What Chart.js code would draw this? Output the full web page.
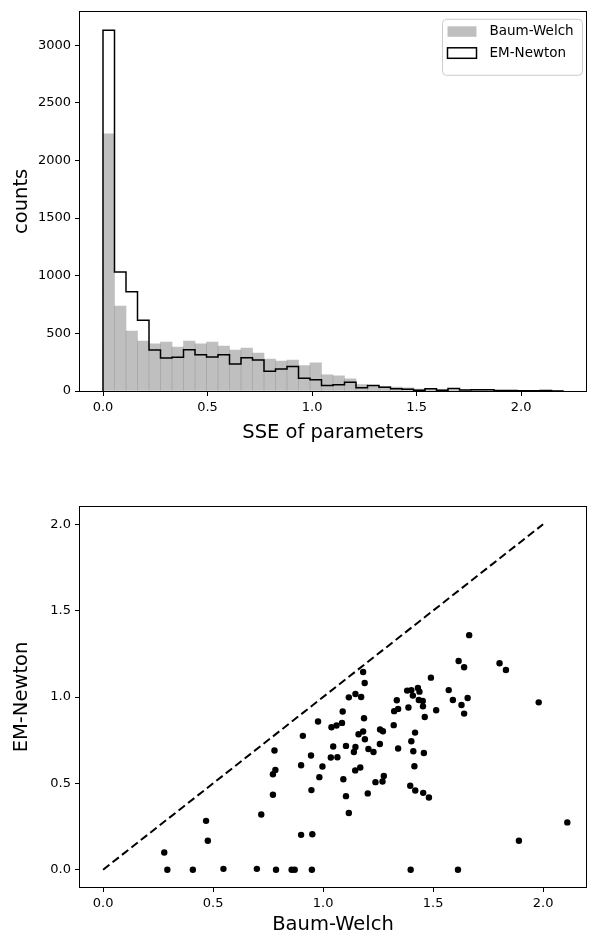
<!DOCTYPE html>
<html>
<head>
    <title>SSE of parameters: Baum-Welch vs EM-Newton</title>
    <meta charset="utf-8" />
    <script src="https://cdn.jsdelivr.net/npm/chart.js"></script>
    <style>
        body { margin: 0; background: #fff; width: 590px; height: 937px; overflow: hidden; }
        #histBox { position: absolute; left: 0; top: 0; width: 590px; height: 460px; }
        #scatterBox { position: absolute; left: 0; top: 460px; width: 590px; height: 477px; }
    </style>
</head>
<body>
    <div id="histBox"><canvas id="histChart" width="590" height="460"></canvas></div>
    <div id="scatterBox"><canvas id="scatterChart" width="590" height="477"></canvas></div>
    <script>
        // histogram: 40 equal bins from 0 to 2.2
        var binStart = 0, binEnd = 2.2, binCount = 40;
        var baumWelchCounts = [2231, 737, 520, 433, 410, 425, 381, 433, 410, 425,
                               390, 355, 373, 329, 277, 260, 269, 220, 245, 140,
                               131, 105, 55, 48, 40, 34, 28, 17, 18, 14,
                               12, 10, 8, 7, 5, 4, 3, 3, 6, 3];
        var emNewtonCounts = [3130, 1032, 861, 613, 355, 286, 292, 358, 315, 295,
                              315, 234, 289, 269, 171, 191, 213, 110, 97, 48,
                              54, 76, 28, 48, 33, 19, 16, 7, 19, 7,
                              22, 8, 10, 10, 4, 4, 2, 2, 4, 1];
        var histXTicks = [0, 0.5, 1, 1.5, 2];
        var histYTicks = [0, 500, 1000, 1500, 2000, 2500, 3000];

        // scatter: SSE of each run, Baum-Welch (x) vs EM-Newton (y)
        var baumWelchSSE = [0.278, 0.468, 0.476, 0.719, 0.779, 0.783, 0.772, 0.772,
                            0.292, 0.408, 0.547, 0.699, 0.786, 0.857, 0.871, 0.949, 1.398, 1.613,
                            1.182, 1.189, 1.147, 1.117, 1.173, 1.089, 0.977, 1.038, 1.061, 1.086,
                            1.186, 0.908, 1.161, 1.182, 1.190, 1.259, 1.272, 1.323, 1.335, 1.341,
                            1.321, 1.388, 1.382, 1.401, 1.431, 1.438, 1.408, 1.435, 1.453, 1.454,
                            1.462, 1.418, 1.401, 1.410, 1.458, 1.415, 1.396, 1.419, 1.455, 1.481,
                            1.046, 1.104, 1.147, 1.140, 1.035, 1.065, 0.945, 0.900, 0.997, 0.983,
                            1.206, 1.229, 1.258, 1.341, 1.169, 1.146, 1.092, 0.947, 1.104, 1.117,
                            1.203, 1.238, 1.270, 1.276, 0.900, 0.951,
                            1.664, 1.616, 1.641, 1.802, 1.831, 1.490, 1.571, 1.590, 1.657, 1.629,
                            1.514, 1.641, 1.980, 2.110, 1.890];
        var emNewtonSSE = [0.100, 0.283, 0.168, 0.320, 0.690, 0.578, 0.553, 0.434,
                           0.000, 0.000, 0.005, 0.005, 0.000, 0.000, 0.000, 0.000, 0.000, 0.000,
                           1.145, 1.081, 1.017, 0.998, 1.000, 0.916, 0.858, 0.825, 0.835, 0.850,
                           0.877, 0.775, 0.784, 0.800, 0.755, 0.812, 0.802, 0.918, 0.981, 0.931,
                           0.837, 0.939, 1.037, 1.039, 1.052, 1.031, 1.008, 0.983, 0.977, 0.946,
                           0.884, 0.794, 0.744, 0.686, 0.676, 0.599, 0.486, 0.459, 0.445, 0.418,
                           0.713, 0.717, 0.711, 0.682, 0.650, 0.651, 0.661, 0.605, 0.598, 0.536,
                           0.699, 0.682, 0.728, 0.702, 0.592, 0.575, 0.524, 0.461, 0.426, 0.328,
                           0.442, 0.507, 0.511, 0.543, 0.202, 0.205,
                           1.358, 1.208, 1.172, 1.195, 1.156, 1.112, 1.040, 0.983, 0.994, 0.954,
                           0.923, 0.904, 0.969, 0.274, 0.168];
        var diagX = [0, 2];
        var diagY = [0, 2];
        var scatterTicks = [0, 0.5, 1, 1.5, 2];

        var FONT = 'DejaVu Sans';

        function axis(min, max, tickValues, title, fmt, size, titlePad, isX) {
            return {
                type: 'linear', min: min, max: max, offset: false,
                grid: { offset: false, drawOnChartArea: false, drawTicks: true, tickLength: 5, tickColor: '#000', tickWidth: 1 },
                border: { display: false },
                ticks: { color: '#000', font: { family: FONT, size: 13 }, padding: 4, maxRotation: 0, autoSkip: false, callback: fmt },
                title: { display: true, text: title, color: '#000', font: { family: FONT, size: 19.5 }, padding: titlePad },
                afterBuildTicks: function (s) { s.ticks = tickValues.map(function (v) { return { value: v }; }); },
                afterFit: function (s) { if (isX) { s.height = size; } else { s.width = size; } }
            };
        }
        var oneDecimal = function (v) { return Number(v).toFixed(1); };
        var plain = function (v) { return String(v); };

        // matplotlib-like box around the plot area
        var framePlugin = {
            id: 'frame',
            afterDatasetsDraw: function (chart) {
                var a = chart.chartArea, ctx = chart.ctx;
                ctx.save();
                ctx.strokeStyle = '#000';
                ctx.lineWidth = 1;
                ctx.strokeRect(Math.round(a.left) - 0.5, Math.round(a.top) - 0.5,
                               Math.round(a.right - a.left) + 1, Math.round(a.bottom - a.top) + 1);
                ctx.restore();
            }
        };

        // legend in the upper right corner of the histogram
        var histLegend = {
            id: 'histLegend',
            afterDraw: function (chart) {
                var ctx = chart.ctx, a = chart.chartArea;
                var x0 = a.right - 143.5, y0 = a.top + 7.5, w = 140, h = 56;
                ctx.save();
                ctx.fillStyle = 'rgba(255,255,255,0.8)';
                ctx.strokeStyle = '#cccccc';
                ctx.lineWidth = 1;
                ctx.beginPath();
                ctx.roundRect(x0, y0, w, h, 4);
                ctx.fill();
                ctx.stroke();

                var bars = chart.data.datasets[1], steps = chart.data.datasets[0];
                ctx.font = '13.5px "' + FONT + '"';
                ctx.textBaseline = 'middle';
                ctx.fillStyle = bars.backgroundColor;
                ctx.fillRect(x0 + 5, y0 + 7, 29, 10.5);
                ctx.fillStyle = '#fff';
                ctx.fillRect(x0 + 5, y0 + 28.5, 29, 10.5);
                ctx.strokeStyle = '#000';
                ctx.lineWidth = 1.5;
                ctx.strokeRect(x0 + 5, y0 + 28.5, 29, 10.5);
                ctx.fillStyle = '#000';
                ctx.fillText(bars.label, x0 + 47, y0 + 12.5);
                ctx.fillText(steps.label, x0 + 47, y0 + 34);
                ctx.restore();
            }
        };

        var binWidth = (binEnd - binStart) / binCount;
        var binEdges = [], binCenters = [];
        for (var i = 0; i < binCount; i++) {
            binEdges.push(binStart + i * binWidth);
            binCenters.push(binStart + (i + 0.5) * binWidth);
        }

        var stepPoints = [{ x: binStart, y: 0 }];
        emNewtonCounts.forEach(function (c, i) { stepPoints.push({ x: binEdges[i], y: c }); });
        stepPoints.push({ x: binEnd, y: 0 });

        new Chart(document.getElementById('histChart'), {
            type: 'bar',
            data: {
                datasets: [{
                    type: 'line',
                    label: 'EM-Newton',
                    data: stepPoints,
                    stepped: 'before',
                    borderColor: '#000',
                    borderWidth: 1.5,
                    pointRadius: 0,
                    fill: false,
                    order: 0
                }, {
                    type: 'bar',
                    label: 'Baum-Welch',
                    data: binCenters.map(function (c, i) { return { x: c, y: baumWelchCounts[i] }; }),
                    backgroundColor: 'rgba(128,128,128,0.5)',
                    borderWidth: 0,
                    barPercentage: 1,
                    categoryPercentage: 1,
                    order: 1
                }]
            },
            options: {
                responsive: false,
                animation: false,
                layout: { padding: { top: 10, right: 4, left: 0, bottom: 0 } },
                plugins: { legend: { display: false }, tooltip: { enabled: false } },
                scales: {
                    x: axis(-0.11, 2.31, histXTicks, 'SSE of parameters', oneDecimal, 69, { top: 0, bottom: 15 }, true),
                    y: axis(0, 3290, histYTicks, 'counts', plain, 80, { top: 10, bottom: 0 }, false)
                }
            },
            plugins: [framePlugin, histLegend]
        });

        new Chart(document.getElementById('scatterChart'), {
            type: 'scatter',
            data: {
                datasets: [{
                    type: 'line',
                    label: 'y = x',
                    data: diagX.map(function (x, i) { return { x: x, y: diagY[i] }; }),
                    borderColor: '#000',
                    borderWidth: 2,
                    borderDash: [8, 4],
                    pointRadius: 0,
                    fill: false
                }, {
                    label: 'runs',
                    data: baumWelchSSE.map(function (x, i) { return { x: x, y: emNewtonSSE[i] }; }),
                    backgroundColor: '#000',
                    borderWidth: 0,
                    pointRadius: 3.2
                }]
            },
            options: {
                responsive: false,
                animation: false,
                layout: { padding: { top: 47, right: 4, left: 0, bottom: 0 } },
                plugins: { legend: { display: false }, tooltip: { enabled: false } },
                scales: {
                    x: axis(-0.105, 2.195, scatterTicks, 'Baum-Welch', oneDecimal, 50, { top: 0, bottom: 0 }, true),
                    y: axis(-0.1, 2.1, scatterTicks, 'EM-Newton', oneDecimal, 80, { top: 10, bottom: 0 }, false)
                }
            },
            plugins: [framePlugin]
        });
    </script>
</body>
</html>
